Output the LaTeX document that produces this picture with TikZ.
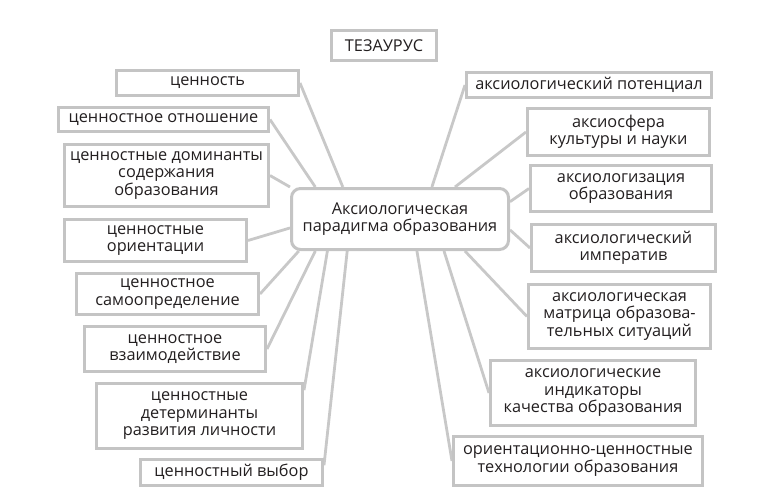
\documentclass[tikz,border=0pt]{standalone}
\usepackage{fontspec}
\setmainfont{Open Sans}
\usetikzlibrary{calc,backgrounds}
\definecolor{frame}{HTML}{C4C4C4}
\definecolor{linkc}{HTML}{C8C8C8}
\definecolor{ink}{HTML}{231F20}

\begin{document}
\begin{tikzpicture}[
  x=1pt, y=-1pt,
  font=\fontsize{16.3}{17.5}\selectfont,
  box/.style={draw=frame, line width=3pt, fill=white, align=center, inner sep=0pt, text=ink},
  hub/.style={box, rounded corners=9pt},
  link/.style={draw=linkc, line width=2.8pt},
]
\useasboundingbox (0,0) rectangle (764,501);

% --- Title and hub ----------------------------------------------------------
\node[box, minimum width=105pt, minimum height=30pt] (thes) at (384,45.5) {ТЕЗАУРУС};
\node[hub, minimum width=217pt, minimum height=61pt] (ctr) at (400,219)
  {Аксиологическая\\парадигма образования};

% --- Left column ------------------------------------------------------------
\node[box, minimum width=182pt, minimum height=25pt] (val) at (207.5,83) {ценность};
\node[box, minimum width=210pt, minimum height=24pt] (rel) at (163.5,119.5) {ценностное отношение};
\node[box, minimum width=204pt, minimum height=62pt] (dom) at (166.5,175.5)
  {ценностные доминанты\\содержания\\образования};
\node[box, minimum width=182pt, minimum height=42pt] (ori) at (155.5,240.5)
  {ценностные\\ориентации};
\node[box, minimum width=182pt, minimum height=41pt] (self) at (167.5,294)
  {ценностное\\самоопределение};
\node[box, minimum width=181pt, minimum height=45pt] (inter) at (175,349)
  {ценностное\\взаимодействие};
\node[box, minimum width=206pt, minimum height=65pt] (det) at (199.5,416)
  {ценностные\\детерминанты\\развития личности};
\node[box, minimum width=182pt, minimum height=26pt] (choice) at (231.5,472.5) {ценностный выбор};

% --- Right column -----------------------------------------------------------
\node[box, minimum width=245pt, minimum height=25pt] (pot) at (589,85) {аксиологический потенциал};
\node[box, minimum width=182pt, minimum height=47pt] (sphere) at (618.5,132)
  {аксиосфера\\культуры и науки};
\node[box, minimum width=181pt, minimum height=46pt] (axz) at (621,188.5)
  {аксиологизация\\образования};
\node[box, minimum width=184pt, minimum height=47pt] (imp) at (623.5,248)
  {аксиологический\\императив};
\node[box, minimum width=182pt, minimum height=64pt] (matr) at (619.5,316.5)
  {аксиологическая\\матрица образова-\\тельных ситуаций};
\node[box, minimum width=205pt, minimum height=65pt] (ind) at (593,393)
  {аксиологические\\индикаторы\\качества образования};
\node[box, minimum width=249pt, minimum height=49pt] (tech) at (578,461)
  {ориентационно-ценностные\\технологии образования};

% --- Connectors, behind the boxes -------------------------------------------
\begin{scope}[on background layer]
  \draw[link] (val.east) -- ($(ctr.north west)!0.24!(ctr.north east)$);
  \draw[link] (rel.east) -- ($(ctr.north west)!0.115!(ctr.north east)$);
  \draw[link] (dom.east) -- (ctr.north west);
  \draw[link] (ori.east) -- ($(ctr.north west)!0.64!(ctr.south west)$);
  \draw[link] (self.east) -- ($(ctr.south west)!0.04!(ctr.south east)$);
  \draw[link] (inter.east) -- ($(ctr.south west)!0.115!(ctr.south east)$);
  \draw[link] ($(det.north east)!0.12!(det.south east)$) -- ($(ctr.south west)!0.17!(ctr.south east)$);
  \draw[link] ($(choice.north east)!0.25!(choice.south east)$) -- ($(ctr.south west)!0.26!(ctr.south east)$);

  \draw[link] (pot.west) -- ($(ctr.north west)!0.645!(ctr.north east)$);
  \draw[link] (sphere.west) -- ($(ctr.north west)!0.75!(ctr.north east)$);
  \draw[link] (axz.west) -- ($(ctr.north east)!0.23!(ctr.south east)$);
  \draw[link] (imp.west) -- ($(ctr.north east)!0.67!(ctr.south east)$);
  \draw[link] (matr.west) -- ($(ctr.south west)!0.795!(ctr.south east)$);
  \draw[link] (ind.west) -- ($(ctr.south west)!0.70!(ctr.south east)$);
  \draw[link] (tech.west) -- ($(ctr.south west)!0.577!(ctr.south east)$);
\end{scope}

\end{tikzpicture}
\end{document}
